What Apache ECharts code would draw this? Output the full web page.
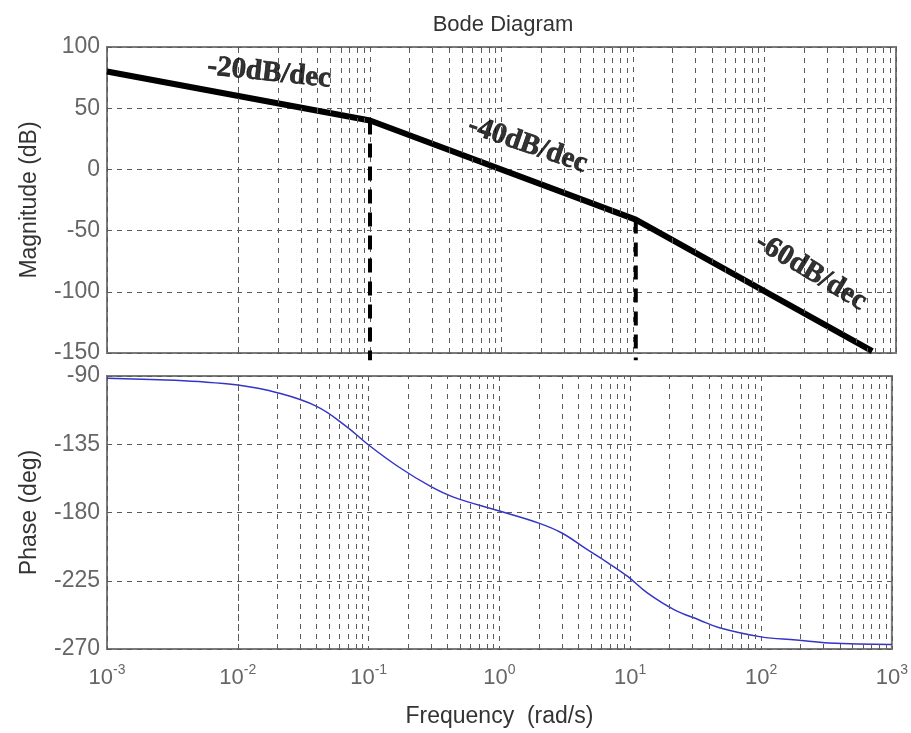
<!DOCTYPE html>
<html>
<head>
<meta charset="utf-8">
<title>Bode Diagram</title>
<script src="https://cdn.jsdelivr.net/npm/echarts@6/dist/echarts.min.js"></script>
<style>
  html, body { margin: 0; padding: 0; background: #fff; }
  #chart { width: 911px; height: 733px; }
</style>
</head>
<body>
<div id="chart"></div>
<script>
// asymptotic magnitude (rad/s, dB)
const magFreq = [0.001, 0.1, 10.5, 660];
const magDb = [80, 40, -41, -148.5];

// corner frequency markers
const corner1 = [[0.1, 40], [0.1, -156]];
const corner2 = [[10.5, -41], [10.5, -156]];

// slope annotations
const slopeText = ['-20dB/dec', '-40dB/dec', '-60dB/dec'];
const slopeFreq = [0.0171, 1.58, 226];
const slopeDb = [78.8, 20, -83.8];
const slopeAngle = [-6, -19, -31];

// phase curve (rad/s, deg)
const phaseFreq = [0.001, 0.0025, 0.005, 0.01, 0.02, 0.04, 0.067, 0.1, 0.17, 0.3, 0.45,
  1, 2, 3, 4.7, 6.7, 9.5, 13.5, 21.6, 34, 48, 100, 186, 330, 1000];
const phaseDeg = [-91.5, -92.5, -93.7, -96, -101, -110, -123, -135.5, -150, -163, -170,
  -179, -187, -193.5, -204.5, -213, -222, -233, -244, -251, -256, -262, -264, -266, -267];

// minor log grid lines 2..9 of each decade
const minorGrid = [];
for (let e = -3; e < 3; e++) {
  for (let k = 2; k <= 9; k++) minorGrid.push({ xAxis: k * Math.pow(10, e) });
}

const labelColor = '#666';
const gridLineStyle = { type: [5, 5], color: '#5a5a5a', width: 1 };

const chart = echarts.init(document.getElementById('chart'));

const minorLines = (idx) => ({
  type: 'line',
  xAxisIndex: idx,
  yAxisIndex: idx,
  data: [],
  z: 1,
  silent: true,
  markLine: {
    silent: true,
    symbol: ['none', 'none'],
    label: { show: false },
    lineStyle: gridLineStyle,
    data: minorGrid,
    animation: false
  }
});

const options = {
  animation: false,
  title: {
    text: 'Bode Diagram',
    left: 498,
    textAlign: 'center',
    top: 9,
    textStyle: { fontFamily: 'Liberation Sans', fontSize: 22, fontWeight: 'normal', color: '#333' }
  },
  grid: [
    { left: 107, right: 15, top: 47, height: 306, show: true, borderColor: '#7a7a7a', borderWidth: 2 },
    { left: 107, right: 15, top: 376, height: 273, show: true, borderColor: '#7a7a7a', borderWidth: 2 }
  ],
  xAxis: [
    {
      type: 'log', gridIndex: 0, min: 0.001, max: 1000, logBase: 10, splitNumber: 6,
      axisLine: { show: false }, axisTick: { show: false }, axisLabel: { show: false },
      splitLine: { show: true, lineStyle: gridLineStyle }
    },
    {
      type: 'log', gridIndex: 1, min: 0.001, max: 1000, logBase: 10, splitNumber: 6,
      axisLine: { show: false }, axisTick: { show: false },
      name: 'Frequency  (rad/s)', nameLocation: 'middle', nameGap: 56,
      nameTextStyle: { fontFamily: 'Liberation Sans', fontSize: 23, color: '#333' },
      splitLine: { show: true, lineStyle: gridLineStyle },
      axisLabel: {
        margin: 14,
        formatter: (v) => '{b|10}{s|' + Math.round(Math.log10(v)) + '}',
        rich: {
          b: { fontFamily: 'Liberation Sans', fontSize: 22, color: labelColor },
          s: { fontFamily: 'Liberation Sans', fontSize: 14, color: labelColor, padding: [0, 0, 16, 0] }
        }
      }
    }
  ],
  yAxis: [
    {
      type: 'value', gridIndex: 0, min: -150, max: 100, interval: 50,
      axisLine: { show: false }, axisTick: { show: false },
      axisLabel: { margin: 7, fontFamily: 'Liberation Sans', fontSize: 23, color: labelColor },
      splitLine: { show: true, lineStyle: gridLineStyle },
      name: 'Magnitude (dB)', nameLocation: 'middle', nameGap: 66,
      nameTextStyle: { fontFamily: 'Liberation Sans', fontSize: 23, color: '#333' }
    },
    {
      type: 'value', gridIndex: 1, min: -270, max: -90, interval: 45,
      axisLine: { show: false }, axisTick: { show: false },
      axisLabel: { margin: 7, fontFamily: 'Liberation Sans', fontSize: 23, color: labelColor },
      splitLine: { show: true, lineStyle: gridLineStyle },
      name: 'Phase (deg)', nameLocation: 'middle', nameGap: 66,
      nameTextStyle: { fontFamily: 'Liberation Sans', fontSize: 23, color: '#333' }
    }
  ],
  series: [
    minorLines(0),
    minorLines(1),
    {
      name: 'corner1', type: 'line', xAxisIndex: 0, yAxisIndex: 0, z: 3,
      data: corner1, showSymbol: false, clip: false,
      lineStyle: { color: '#000', width: 4, type: [14, 9] }
    },
    {
      name: 'corner2', type: 'line', xAxisIndex: 0, yAxisIndex: 0, z: 3,
      data: corner2, showSymbol: false, clip: false,
      lineStyle: { color: '#000', width: 4, type: [14, 9] }
    },
    {
      name: 'Magnitude', type: 'line', xAxisIndex: 0, yAxisIndex: 0, z: 4,
      data: magFreq.map((f, i) => [f, magDb[i]]),
      showSymbol: false,
      lineStyle: { color: '#000', width: 6 }
    },
    {
      name: 'slopes', type: 'scatter', xAxisIndex: 0, yAxisIndex: 0, z: 5,
      symbolSize: 1,
      itemStyle: { color: 'transparent' },
      data: slopeText.map((t, i) => ({
        value: [slopeFreq[i], slopeDb[i]],
        label: { formatter: t, rotate: slopeAngle[i] }
      })),
      label: {
        show: true, position: 'inside',
        fontFamily: 'Liberation Serif', fontWeight: 'bold', fontSize: 29, color: '#000',
        textBorderColor: '#000', textBorderWidth: 0.7
      }
    },
    {
      name: 'Phase', type: 'line', xAxisIndex: 1, yAxisIndex: 1, z: 4,
      data: phaseFreq.map((f, i) => [f, phaseDeg[i]]),
      showSymbol: false, smooth: 0.4,
      lineStyle: { color: '#3434c8', width: 1.5 }
    }
  ]
};

chart.setOption(options);
</script>
</body>
</html>
